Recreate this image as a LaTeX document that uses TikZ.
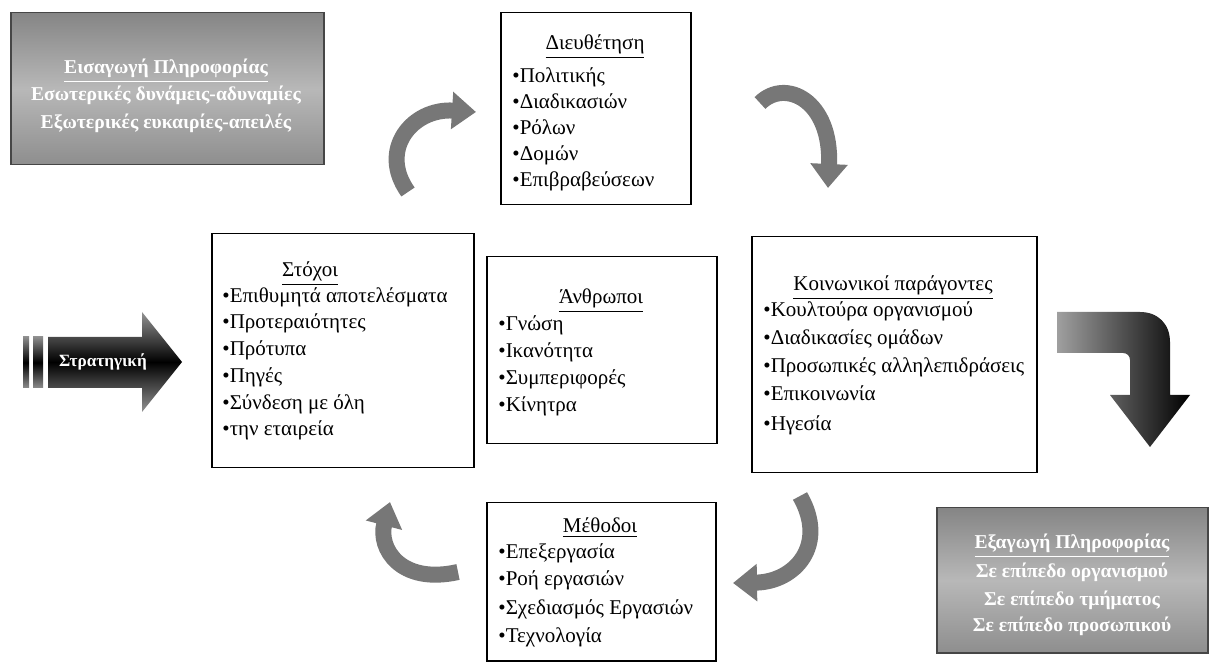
\documentclass[tikz,border=0pt]{standalone}
\usepackage{fontspec}
\setmainfont{Liberation Serif}
\usetikzlibrary{arrows.meta}
\definecolor{garrow}{HTML}{777777}
\definecolor{gA}{HTML}{858585}
\definecolor{gB}{HTML}{B8B8B8}
\definecolor{gC}{HTML}{8E8E8E}
\definecolor{gedge}{HTML}{464646}
\tikzset{
 wbox/.style={draw=black, line width=0.75pt, fill=white, inner sep=0pt, anchor=north west},
 gbox/.style={draw=gedge, line width=0.75pt, inner sep=0pt, anchor=north west, top color=gA, bottom color=gC, middle color=gB},
 btxt/.style={anchor=base west, inner sep=0pt, font=\fontsize{10.5}{12}\selectfont},
 ttxt/.style={anchor=base, inner sep=0pt, font=\fontsize{10.5}{12}\selectfont},
 gtxt/.style={anchor=base, inner sep=0pt, text=white, font=\fontsize{9.8}{11}\selectfont\bfseries},
 cyc/.style={line width=8pt, draw=garrow, -{Triangle[width=18pt,length=12pt]}},
}
\begin{document}
\begin{tikzpicture}[x=0.5pt,y=-0.5pt]
\useasboundingbox (0,0) rectangle (1216,662);

% gray info boxes
\node[gbox, minimum width=156.5pt, minimum height=76pt] (inbox) at (10,12) {};
\node[gtxt] (in1) at (166,74) {\underline{Εισαγωγή Πληροφορίας}};
\node[gtxt] (in2) at (166,101) {Εσωτερικές δυνάμεις-αδυναμίες};
\node[gtxt] (in3) at (166,129) {Εξωτερικές ευκαιρίες-απειλές};

\node[gbox, minimum width=135.5pt, minimum height=72.5pt] (outbox) at (936,507) {};
\node[gtxt] (out1) at (1072,549) {\underline{Εξαγωγή Πληροφορίας}};
\node[gtxt] (out2) at (1072,578) {Σε επίπεδο οργανισμού};
\node[gtxt] (out3) at (1072,605) {Σε επίπεδο τμήματος};
\node[gtxt] (out4) at (1072,632) {Σε επίπεδο προσωπικού};

% Dieuthetisi
\node[wbox, minimum width=95pt, minimum height=96pt] (dieu) at (500,12) {};
\node[ttxt] (dieuT) at (595,50) {\underline{Διευθέτηση}};
\node[btxt] (d1) at (512,83) {•Πολιτικής};
\node[btxt] (d2) at (512,109) {•Διαδικασιών};
\node[btxt] (d3) at (512,135) {•Ρόλων};
\node[btxt] (d4) at (512,161) {•Δομών};
\node[btxt] (d5) at (512,187) {•Επιβραβεύσεων};

% Stoxoi
\node[wbox, minimum width=131pt, minimum height=117pt] (stox) at (211,233) {};
\node[ttxt] (stoxT) at (310,277) {\underline{Στόχοι}};
\node[btxt] (s1) at (222,303) {•Επιθυμητά αποτελέσματα};
\node[btxt] (s2) at (222,329) {•Προτεραιότητες};
\node[btxt] (s3) at (222,356) {•Πρότυπα};
\node[btxt] (s4) at (222,383) {•Πηγές};
\node[btxt] (s5) at (222,410) {•Σύνδεση με όλη};
\node[btxt] (s6) at (222,436) {•την εταιρεία};

% Anthropoi
\node[wbox, minimum width=115pt, minimum height=93.5pt] (anth) at (486,256) {};
\node[ttxt] (anthT) at (601,304) {\underline{Άνθρωποι}};
\node[btxt] (a1) at (498,331) {•Γνώση};
\node[btxt] (a2) at (498,358) {•Ικανότητα};
\node[btxt] (a3) at (498,385) {•Συμπεριφορές};
\node[btxt] (a4) at (498,412) {•Κίνητρα};

% Koinonikoi
\node[wbox, minimum width=142.5pt, minimum height=118pt] (koin) at (751,236) {};
\node[ttxt] (koinT) at (893,291) {\underline{Κοινωνικοί παράγοντες}};
\node[btxt] (k1) at (763,317) {•Κουλτούρα οργανισμού};
\node[btxt] (k2) at (763,345) {•Διαδικασίες ομάδων};
\node[btxt] (k3) at (763,373) {•Προσωπικές αλληλεπιδράσεις};
\node[btxt] (k4) at (763,401) {•Επικοινωνία};
\node[btxt] (k5) at (763,431) {•Ηγεσία};

% Methodoi
\node[wbox, minimum width=114.5pt, minimum height=79pt] (meth) at (486,502) {};
\node[ttxt] (methT) at (600,533) {\underline{Μέθοδοι}};
\node[btxt] (m1) at (498,559) {•Επεξεργασία};
\node[btxt] (m2) at (498,586) {•Ροή εργασιών};
\node[btxt] (m3) at (498,614) {•Σχεδιασμός Εργασιών};
\node[btxt] (m4) at (498,642) {•Τεχνολογία};

% Strategy arrow
\shade[top color=gray!90, bottom color=gray!90, middle color=black] (23,337) rectangle (29,388);
\shade[top color=gray!90, bottom color=gray!90, middle color=black] (33,337) rectangle (43,388);
\shade[top color=gray!85, bottom color=gray!85, middle color=black]
  (48,337) -- (142,337) -- (142,312) -- (182,362) -- (142,412) -- (142,388) -- (48,388) -- cycle;
\node[inner sep=0pt, text=white, font=\fontsize{8.6}{10}\selectfont\bfseries] (strat) at (103,362) {Στρατηγική};

% big output arrow
\shade[left color=gray!75, right color=black]
  (1057,312) -- (1140,312) .. controls (1158,312) and (1170,324) .. (1170,342) -- (1170,395)
  -- (1190,395) -- (1150,447) -- (1110,395) -- (1130,395) -- (1130,360)
  .. controls (1130,356) and (1127,353) .. (1123,353) -- (1057,353) -- cycle;

% cycle arrows
\coordinate (aAs) at (408,192);
\coordinate (aAe) at (476,112);
\coordinate (aBs) at (760,103);
\coordinate (aBe) at (828,188);
\coordinate (aCs) at (800,496);
\coordinate (aCe) at (733,583);
\coordinate (aDs) at (458,572);
\coordinate (aDe) at (390,502);
\draw[cyc] (aAs) .. controls (378,150) and (412,108) .. (aAe);
\draw[cyc] (aBs) .. controls (785,78) and (832,100) .. (aBe);
\draw[cyc] (aCs) .. controls (828,545) and (795,582) .. (aCe);
\draw[cyc] (aDs) .. controls (400,585) and (378,548) .. (aDe);
\end{tikzpicture}
\end{document}
